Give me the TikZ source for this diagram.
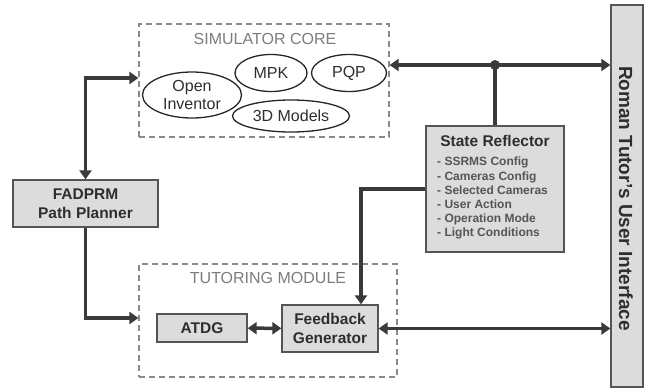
\documentclass[tikz,border=0pt]{standalone}
\usepackage{fontspec}
\setmainfont{Liberation Sans}
\usepackage{xcolor}
\usepackage{tikz}
\usetikzlibrary{arrows.meta, positioning, calc, shapes.geometric}

\definecolor{linegray}{HTML}{3A3A3A}
\definecolor{boxfill}{HTML}{DCDCDC}
\definecolor{boxline}{HTML}{555555}
\definecolor{dashgray}{HTML}{8A8A8A}
\definecolor{textgray}{HTML}{2E2E2E}
\definecolor{itemgray}{HTML}{555555}

\begin{document}
\begin{tikzpicture}[x=1pt, y=-1pt, >={Triangle[length=9pt,width=12pt]},
    block/.style={draw=boxline, fill=boxfill, line width=1.3pt, inner sep=0pt, align=center,
      text=textgray, font=\bfseries\fontsize{15.5}{19.5}\selectfont},
    group/.style={draw=dashgray, line width=1.2pt, dash pattern=on 6pt off 4pt, inner sep=0pt},
    grouptitle/.style={text=dashgray!90!black, font=\mdseries\fontsize{16}{18}\selectfont},
    module/.style={ellipse, draw=black!85, line width=1.3pt, inner sep=0pt, align=center,
      text=textgray, font=\mdseries\fontsize{16}{18}\selectfont},
    link/.style={draw=linegray, line width=3.5pt}]
  \useasboundingbox (0,0) rectangle (647,391);

  % Simulator core group
  \node[group, minimum width=250, minimum height=113] (sim) at (264,80.5) {};
  \node[grouptitle] (simtitle) at (265,38.5) {SIMULATOR CORE};
  \node[module, minimum width=99, minimum height=46] (oi) at (192,95) {Open\\Inventor};
  \node[module, minimum width=72, minimum height=37] (mpk) at (271,73) {MPK};
  \node[module, minimum width=75, minimum height=37] (pqp) at (349,73) {PQP};
  \node[module, minimum width=117, minimum height=32] (models) at (291,116) {3D Models};

  % Tutoring module group
  \node[group, minimum width=258, minimum height=113] (tut) at (268,320.5) {};
  \node[grouptitle] (tuttitle) at (268,278) {TUTORING MODULE};
  \node[block, minimum width=90, minimum height=28] (atdg) at (202,328) {ATDG};
  \node[block, minimum width=96, minimum height=47] (fb) at (330,328.5) {Feedback\\Generator};

  % Path planner
  \node[block, minimum width=145, minimum height=47] (fad) at (85.5,203.5) {FADPRM\\Path Planner};

  % State reflector
  \node[block, minimum width=138, minimum height=126] (sr) at (495,189) {};
  \node[text=textgray, font=\bfseries\fontsize{15.5}{17}\selectfont] (srtitle) at (495,141) {State Reflector};
  \node[anchor=north west, align=left, inner sep=0pt, text=itemgray,
    font=\bfseries\fontsize{12}{14.2}\selectfont] (srlist) at (437,157)
    {- SSRMS Config\\- Cameras Config\\- Selected Cameras\\- User Action\\- Operation Mode\\- Light Conditions};

  % User interface
  \node[block, minimum width=32, minimum height=382] (ui) at (627,196) {};
  \node[rotate=-90, text=textgray, font=\bfseries\fontsize{19}{21}\selectfont] (uilabel) at (626,198.5)
    {Roman Tutor's User Interface};

  % connectors
  \draw[link, <->] ([yshift=15.5pt]sim.east) -- ([yshift=15.5pt]sim.east -| ui.west);
  \coordinate (jn) at ([yshift=15.5pt]sim.east -| sr.north);
  \fill[linegray] (jn) circle (5pt);
  \draw[link] (jn) -- (sr.north);
  \draw[link, ->] (sr.west) -| ([xshift=31pt]fb.north);
  \draw[link, <->] ([yshift=2.5pt]sim.west) -| (fad.north);
  \draw[link, ->] (fad.south) |- ([yshift=2.5pt]tut.west);
  \draw[link, <->] (atdg) -- (fb);
  \draw[link, <->] (fb.east) -- (fb.east -| ui.west);
\end{tikzpicture}
\end{document}
